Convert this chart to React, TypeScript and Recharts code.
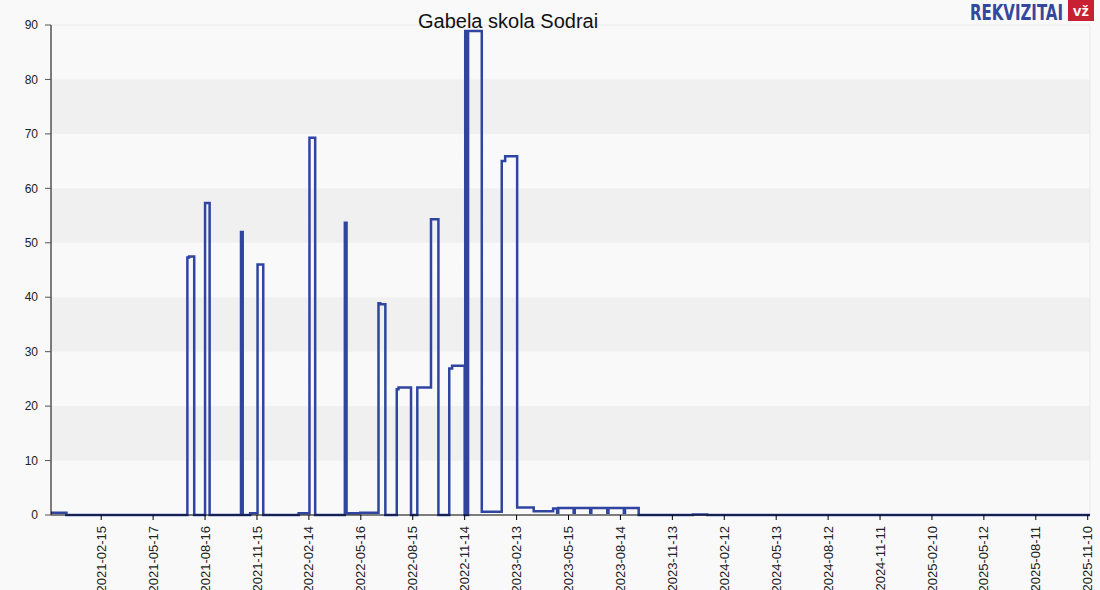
import { LineChart, Line, XAxis, YAxis, ReferenceArea, ReferenceLine } from 'recharts';

// change points of the step series (value holds until the next date)
const dates = [
  '2020-11-19', '2020-12-16', '2021-07-16', '2021-07-19', '2021-07-28', '2021-08-16', '2021-08-24',
  '2021-10-18', '2021-10-21', '2021-11-03', '2021-11-16', '2021-11-26', '2022-01-27', '2022-02-15',
  '2022-02-25', '2022-04-18', '2022-04-21', '2022-05-15', '2022-06-16', '2022-06-19', '2022-06-28',
  '2022-07-18', '2022-07-21', '2022-08-12', '2022-08-23', '2022-09-16', '2022-09-29', '2022-10-18',
  '2022-10-23', '2022-11-14', '2022-11-15', '2022-11-18', '2022-11-20', '2022-12-14', '2023-01-18',
  '2023-01-24', '2023-02-14', '2023-03-15', '2023-04-18', '2023-04-25', '2023-04-27', '2023-05-24',
  '2023-05-26', '2023-06-22', '2023-06-24', '2023-07-22', '2023-07-24', '2023-08-20', '2023-08-22',
  '2023-09-15', '2023-12-19', '2024-01-13', '2025-11-14',
];
const values = [
  0.4, 0, 47.3, 47.5, 0, 57.3, 0,
  52, 0, 0.3, 46, 0, 0.3, 69.3,
  0, 53.7, 0.3, 0.4, 38.9, 38.7, 0,
  23.1, 23.4, 0, 23.4, 54.3, 0, 26.9,
  27.4, 0, 88.9, 0, 88.9, 0.6, 65,
  65.9, 1.4, 0.7, 1.2, 0.4, 1.3, 0.4,
  1.3, 0.4, 1.3, 0.4, 1.3, 0.4, 1.3,
  0, 0.1, 0, 0,
];

const xTickLabels = [
  '2021-02-15', '2021-05-17', '2021-08-16', '2021-11-15', '2022-02-14', '2022-05-16', '2022-08-15',
  '2022-11-14', '2023-02-13', '2023-05-15', '2023-08-14', '2023-11-13', '2024-02-12', '2024-05-13',
  '2024-08-12', '2024-11-11', '2025-02-10', '2025-05-12', '2025-08-11', '2025-11-10',
];
const yTicks = [0, 10, 20, 30, 40, 50, 60, 70, 80, 90];
const shadedBands = [[10, 20], [30, 40], [50, 60], [70, 80]];

const xStart = Date.parse('2020-11-19');
const xEnd = Date.parse('2025-11-14');

const data = dates.map((d, i) => ({ t: Date.parse(d), v: values[i] }));
const xTicks = xTickLabels.map((d) => Date.parse(d));

const FONT = '"Liberation Sans", Arial, sans-serif';

function DateTick({ x, y, payload }: any) {
  const label = new Date(payload.value).toISOString().slice(0, 10);
  return (
    <text
      transform={`translate(${x},${y}) rotate(-90)`}
      textAnchor="end"
      dy="0.35em"
      fontSize={13}
      fontFamily={FONT}
      fill="#222"
    >
      {label}
    </text>
  );
}

export default function App() {
  return (
    <div style={{ position: 'absolute', left: 0, top: 0, width: 1100, height: 590, background: '#f9f9f9', overflow: 'hidden' }}>
      <LineChart width={1100} height={590} data={data} margin={{ top: 25, right: 10, bottom: 0, left: 10 }}>
        {shadedBands.map(([a, b]) => (
          <ReferenceArea key={a} y1={a} y2={b} fill="#f0f0f0" fillOpacity={1} stroke="none" />
        ))}
        <ReferenceLine y={90} stroke="#e8e8e8" />
        <ReferenceLine x={xEnd} stroke="#e8e8e8" />
        <XAxis
          dataKey="t"
          type="number"
          domain={[xStart, xEnd]}
          ticks={xTicks}
          interval={0}
          height={75}
          tickSize={5}
          tickMargin={6}
          axisLine={{ stroke: '#000' }}
          tickLine={{ stroke: '#000' }}
          tick={<DateTick />}
        />
        <YAxis
          type="number"
          domain={[0, 90]}
          ticks={yTicks}
          interval={0}
          width={41}
          tickSize={6}
          tickMargin={7}
          axisLine={{ stroke: '#000' }}
          tickLine={{ stroke: '#555' }}
          tick={{ fontSize: 12, fontFamily: FONT, fill: '#222' }}
        />
        <Line
          dataKey="v"
          type="stepAfter"
          stroke="#2f45a0"
          strokeWidth={2.5}
          dot={false}
          activeDot={false}
          isAnimationActive={false}
        />
      </LineChart>
      <div style={{ position: 'absolute', left: 418, top: 10, fontFamily: FONT, fontSize: 20, color: '#111', whiteSpace: 'nowrap' }}>
        Gabela skola Sodrai
      </div>
      <svg style={{ position: 'absolute', left: 968, top: 0 }} width={130} height={24}>
        <text x={2} y={20} fontSize={22} fontWeight="bold" fontFamily='"DejaVu Sans Condensed", "Liberation Sans Narrow", sans-serif'
          fill="#3448a0" textLength={93} lengthAdjust="spacingAndGlyphs">
          REKVIZITAI
        </text>
        <rect x={100} y={0} width={26} height={21} fill="#c62032" />
        <text x={113} y={16} fontSize={15} fontWeight="bold" fontFamily={FONT} fill="#fff" textAnchor="middle">
          vž
        </text>
      </svg>
    </div>
  );
}
